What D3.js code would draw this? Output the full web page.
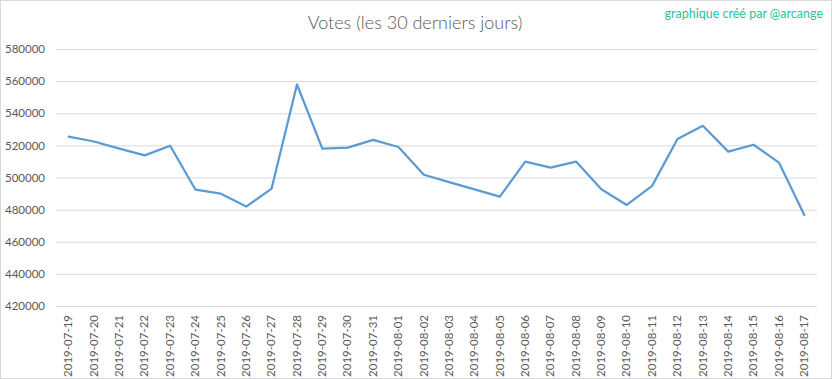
<!DOCTYPE html>
<html>
<head>
<meta charset="utf-8">
<script src="https://cdn.jsdelivr.net/npm/d3@7"></script>
<style>
  html, body { margin: 0; padding: 0; background: #fff; }
  svg { display: block; }
</style>
</head>
<body>
<svg id="chart" width="832" height="379"></svg>
<script>
// data
const dates = [
  "2019-07-19", "2019-07-20", "2019-07-21", "2019-07-22", "2019-07-23",
  "2019-07-24", "2019-07-25", "2019-07-26", "2019-07-27", "2019-07-28",
  "2019-07-29", "2019-07-30", "2019-07-31", "2019-08-01", "2019-08-02",
  "2019-08-03", "2019-08-04", "2019-08-05", "2019-08-06", "2019-08-07",
  "2019-08-08", "2019-08-09", "2019-08-10", "2019-08-11", "2019-08-12",
  "2019-08-13", "2019-08-14", "2019-08-15", "2019-08-16", "2019-08-17"
];
const votes = [
  525500, 522400, 518000, 513800, 519800,
  492400, 489900, 481900, 493100, 557900,
  518000, 518600, 523400, 519000, 501700,
  497100, 492600, 488100, 509900, 506100,
  509900, 492700, 482900, 494800, 524000,
  532200, 516100, 520400, 509300, 476700
];
const yTicks = [420000, 440000, 460000, 480000, 500000, 520000, 540000, 560000, 580000];

const width = 832, height = 379;
const margin = { top: 49, right: 15, bottom: 73, left: 56 };

const svg = d3.select("#chart");

// outer frame
svg.append("rect")
  .attr("x", 0.5).attr("y", 0.5)
  .attr("width", width - 1).attr("height", height - 1)
  .attr("fill", "#fff").attr("stroke", "#d9d9d9");

const x = d3.scaleBand()
  .domain(dates)
  .range([margin.left, width - margin.right]);

const y = d3.scaleLinear()
  .domain([420000, 580000])
  .range([height - margin.bottom, margin.top]);

// y axis + gridlines
const yAxis = svg.append("g")
  .attr("transform", `translate(${margin.left},0)`)
  .call(d3.axisLeft(y).tickValues(yTicks).tickFormat(d3.format("d"))
    .tickSize(-(width - margin.left - margin.right)).tickPadding(11));
yAxis.select(".domain").remove();
yAxis.selectAll("line").attr("stroke", "#d9d9d9");
yAxis.selectAll("text")
  .attr("fill", "#595959")
  .style("font-family", "Lato, 'Open Sans', sans-serif")
  .style("font-size", "11.5px");

// x axis (labels rotated)
const xAxis = svg.append("g")
  .attr("transform", `translate(0,${height - margin.bottom})`)
  .call(d3.axisBottom(x).tickSize(0));
xAxis.select(".domain").remove();
xAxis.selectAll("text")
  .attr("fill", "#595959")
  .style("font-family", "Lato, 'Open Sans', sans-serif")
  .style("font-size", "11.5px")
  .attr("text-anchor", "end")
  .attr("dy", "0.32em")
  .attr("transform", "translate(0,9) rotate(-90)")
  .attr("x", 0).attr("y", 0);

// line
const line = d3.line()
  .x((d, i) => x(dates[i]) + x.bandwidth() / 2)
  .y(d => y(d));

svg.append("path")
  .datum(votes)
  .attr("fill", "none")
  .attr("stroke", "#5b9bd5")
  .attr("stroke-width", 2.25)
  .attr("stroke-linejoin", "round")
  .attr("stroke-linecap", "round")
  .attr("d", line);

// title
svg.append("text")
  .attr("x", 415).attr("y", 29)
  .attr("text-anchor", "middle")
  .attr("fill", "#595959")
  .style("font-family", "Lato, 'Open Sans', sans-serif")
  .style("font-weight", 300)
  .style("font-size", "18px")
  .text("Votes (les 30 derniers jours)");

svg.append("text")
  .attr("x", 823).attr("y", 18)
  .attr("text-anchor", "end")
  .attr("fill", "#1fc3a0")
  .style("font-family", "Lato, 'Open Sans', sans-serif")
  .style("font-size", "12.5px")
  .text("graphique créé par @arcange");
</script>
</body>
</html>
